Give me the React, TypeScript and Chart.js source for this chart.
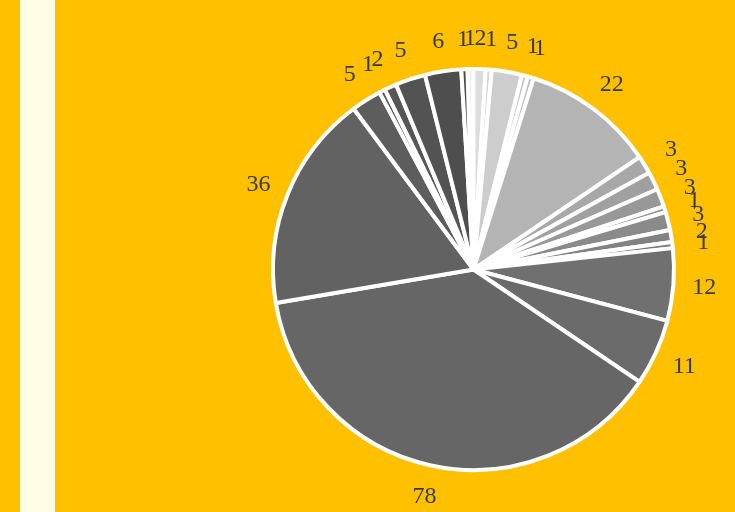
import React, { useEffect, useRef } from "react";
import { Chart, registerables } from "chart.js";

Chart.register(...registerables);

const categories = [
  "C1", "C2", "C3", "C4", "C5", "C6", "C7", "C8", "C9", "C10", "C11", "C12",
  "C13", "C14", "C15", "C16", "C17", "C18", "C19", "C20", "C21", "C22", "C23", "C24",
];
const values = [1, 2, 1, 5, 1, 1, 22, 3, 3, 3, 1, 3, 2, 1, 12, 11, 78, 36, 5, 1, 2, 5, 6, 1];

const sliceColors = [
  "#ececec", "#dcdcdc", "#d6d6d6", "#cdcdcd", "#c6c6c6", "#bebebe", "#b4b4b4",
  "#a8a8a8", "#a0a0a0", "#989898", "#929292", "#8a8a8a", "#828282", "#7a7a7a",
  "#707070", "#6b6b6b", "#666666", "#626262", "#5d5d5d", "#595959", "#565656",
  "#535353", "#4e4e4e", "#4a4a4a",
];

const labelPlugin = {
  id: "outerLabels",
  afterDatasetsDraw(chart: any) {
    const ctx = chart.ctx;
    const meta = chart.getDatasetMeta(0);
    const data = chart.data.datasets[0].data as number[];
    ctx.save();
    ctx.font = '24px "Liberation Serif", "Times New Roman", serif';
    ctx.fillStyle = "#3a3a3a";
    ctx.textAlign = "center";
    ctx.textBaseline = "middle";
    meta.data.forEach((arc: any, i: number) => {
      const p = arc.getProps(["x", "y", "startAngle", "endAngle", "outerRadius"], true);
      const mid = (p.startAngle + p.endAngle) / 2;
      const r = p.outerRadius + 31;
      ctx.fillText(String(data[i]), p.x + Math.cos(mid) * r, p.y + Math.sin(mid) * r + 1);
    });
    ctx.restore();
  },
};

export default function App() {
  const canvasRef = useRef<HTMLCanvasElement | null>(null);

  useEffect(() => {
    const canvas = canvasRef.current;
    if (!canvas) return;
    const chart = new Chart(canvas, {
      type: "pie",
      data: {
        labels: categories,
        datasets: [
          {
            data: values,
            backgroundColor: sliceColors,
            borderColor: "#ffffff",
            borderWidth: 4,
          },
        ],
      },
      options: {
        responsive: false,
        maintainAspectRatio: false,
        animation: false,
        rotation: -1.75,
        layout: { padding: { left: 271, right: 59, top: 67, bottom: 40 } },
        plugins: {
          legend: { display: false },
          tooltip: { enabled: false },
        },
      },
      plugins: [labelPlugin],
    });
    return () => chart.destroy();
  }, []);

  return (
    <div
      style={{
        position: "fixed",
        left: 0,
        top: 0,
        width: 735,
        height: 512,
        background: "#FFC000",
        overflow: "hidden",
      }}
    >
      <div
        style={{
          position: "absolute",
          left: 20,
          top: 0,
          width: 35,
          height: 512,
          background: "#FFFDE6",
        }}
      />
      <canvas
        ref={canvasRef}
        width={735}
        height={512}
        style={{ position: "absolute", left: 0, top: 0, width: 735, height: 512 }}
      />
    </div>
  );
}
